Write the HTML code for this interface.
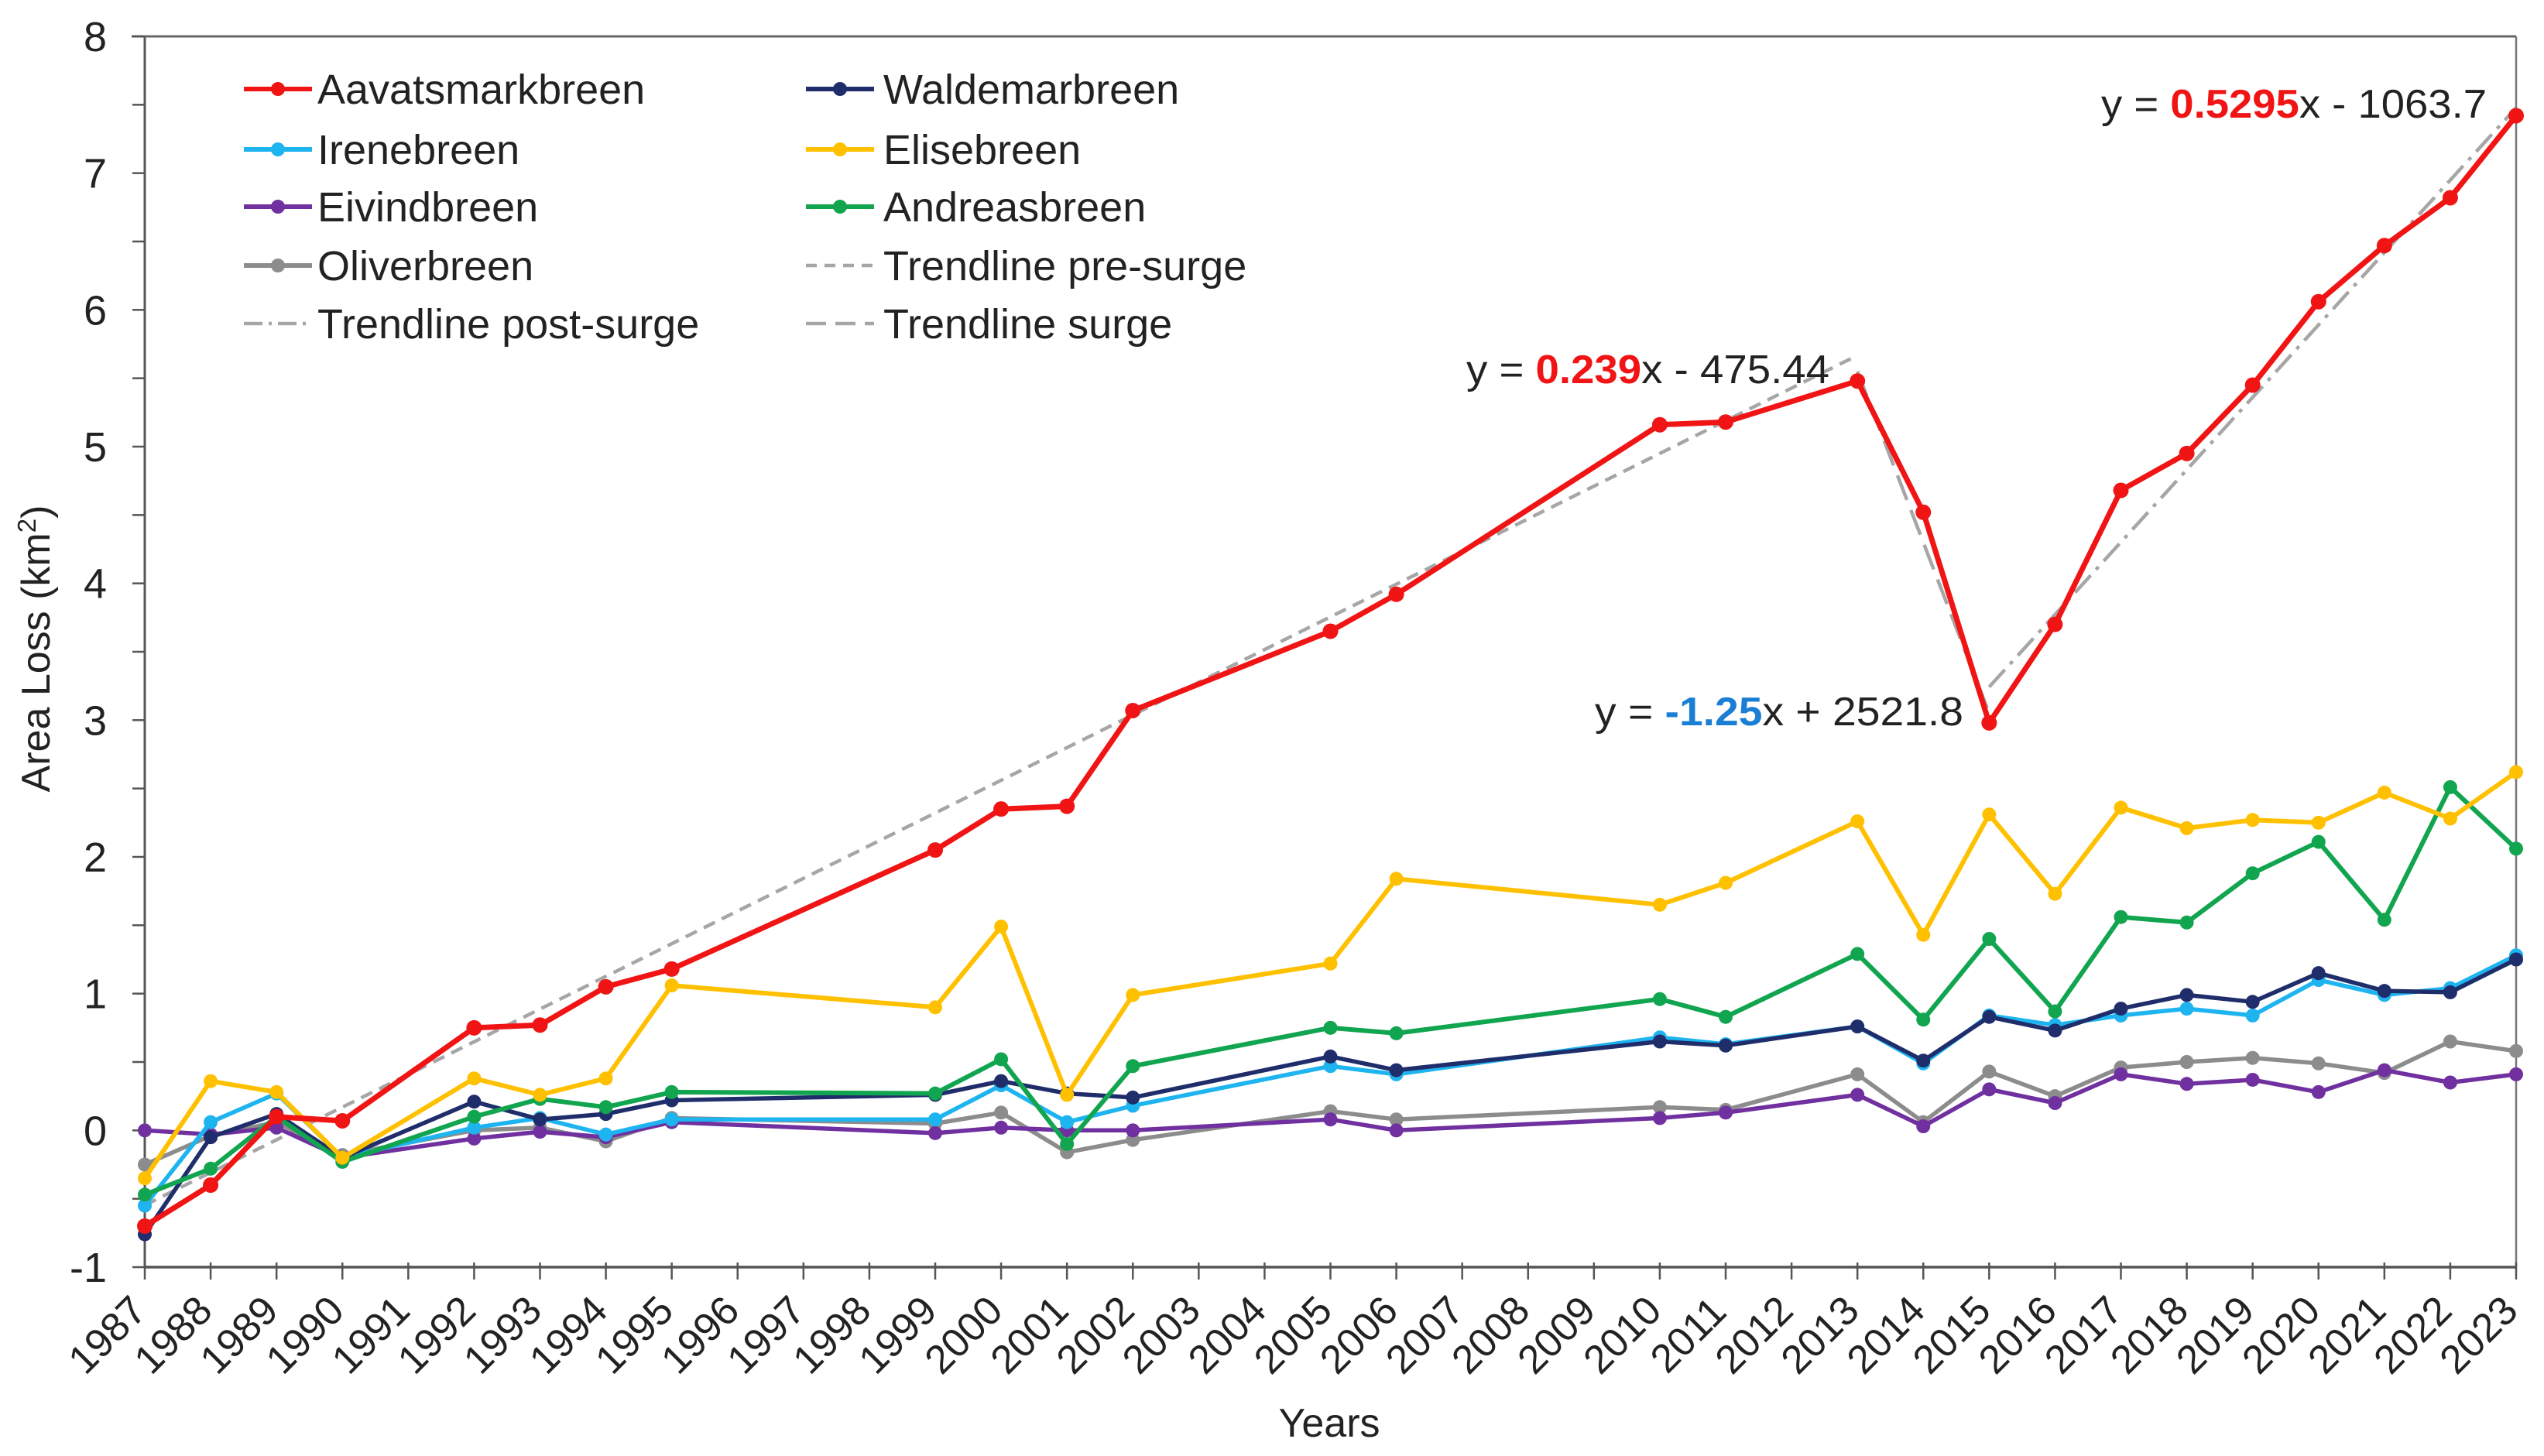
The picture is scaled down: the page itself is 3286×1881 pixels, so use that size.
<!DOCTYPE html>
<html><head><meta charset="utf-8"><title>Area Loss</title>
<style>
html,body{margin:0;padding:0;background:#fff;}
svg{display:block;font-family:"Liberation Sans",Arial,sans-serif;}
</style></head>
<body>
<svg id="chart" width="3286" height="1881" viewBox="0 0 3286 1881" xmlns="http://www.w3.org/2000/svg">
<rect x="0" y="0" width="3286" height="1881" fill="#fff"/>
<g id="axes"></g>
<g id="trends"></g>
<g id="series"></g>
<g id="legend"></g>
<g id="annot"></g>
<text x="0" y="0" transform="translate(64,838) rotate(-90)" text-anchor="middle" font-size="52" fill="#222">Area Loss (km<tspan baseline-shift="super" font-size="33">2</tspan>)</text>
<text x="1717" y="1856" text-anchor="middle" font-size="52" fill="#222">Years</text>
</svg>
<script>
const years = [1987,1988,1989,1990,1992,1993,1994,1995,1999,2000,2001,2002,2005,2006,2010,2011,2013,2014,2015,2016,2017,2018,2019,2020,2021,2022,2023];
const aavatsmark = [-0.7,-0.4,0.1,0.07,0.75,0.77,1.05,1.18,2.05,2.35,2.37,3.07,3.65,3.92,5.16,5.18,5.48,4.52,2.98,3.7,4.68,4.95,5.45,6.06,6.47,6.82,7.42];
const waldemar = [-0.76,-0.05,0.12,-0.2,0.21,0.08,0.12,0.22,0.26,0.36,0.27,0.24,0.54,0.44,0.65,0.62,0.76,0.51,0.83,0.73,0.89,0.99,0.94,1.15,1.02,1.01,1.25];
const irene = [-0.55,0.06,0.27,-0.2,0.02,0.09,-0.03,0.08,0.08,0.33,0.06,0.18,0.47,0.41,0.68,0.63,0.76,0.49,0.84,0.77,0.84,0.89,0.84,1.1,0.99,1.04,1.28];
const elise = [-0.35,0.36,0.28,-0.2,0.38,0.26,0.38,1.06,0.9,1.49,0.26,0.99,1.22,1.84,1.65,1.81,2.26,1.43,2.31,1.73,2.36,2.21,2.27,2.25,2.47,2.28,2.62];
const eivind = [0.0,-0.03,0.02,-0.2,-0.06,-0.01,-0.05,0.06,-0.02,0.02,0.0,0.0,0.08,0.0,0.09,0.13,0.26,0.03,0.3,0.2,0.41,0.34,0.37,0.28,0.44,0.35,0.41];
const andreas = [-0.47,-0.28,0.1,-0.23,0.1,0.23,0.17,0.28,0.27,0.52,-0.1,0.47,0.75,0.71,0.96,0.83,1.29,0.81,1.4,0.87,1.56,1.52,1.88,2.11,1.54,2.51,2.06];
const oliver = [-0.25,-0.04,0.06,-0.18,0.0,0.02,-0.08,0.09,0.05,0.13,-0.16,-0.07,0.14,0.08,0.17,0.15,0.41,0.06,0.43,0.25,0.46,0.5,0.53,0.49,0.42,0.65,0.58];
const yTicks = [-1,0,1,2,3,4,5,6,7,8];
const xTickYears = [1987,1988,1989,1990,1991,1992,1993,1994,1995,1996,1997,1998,1999,2000,2001,2002,2003,2004,2005,2006,2007,2008,2009,2010,2011,2012,2013,2014,2015,2016,2017,2018,2019,2020,2021,2022,2023];
const trendPre = {slope:0.239, icpt:-475.44, from:1987, to:2013};
const trendSurge = {slope:-1.25, icpt:2521.8, from:2013, to:2015};
const trendPost = {slope:0.5295, icpt:-1063.7, from:2015, to:2023};

const NS="http://www.w3.org/2000/svg";
const X0=187, X1=3250, Y8=47, Y_1=1637;
function xs(yr){return X0+(yr-1987)*(X1-X0)/36;}
function ys(v){return Y8+(8-v)*(Y_1-Y8)/9;}
function mk(tag,attrs,parent){const e=document.createElementNS(NS,tag);for(const k in attrs)e.setAttribute(k,attrs[k]);parent.appendChild(e);return e;}

const axes=document.getElementById('axes');
let l;
l=mk('line',{x1:X0,y1:Y8,x2:X0,y2:Y_1,stroke:'#555','stroke-width':3},axes);


l=mk('line',{x1:X0,y1:Y_1,x2:X1,y2:Y_1,stroke:'#555','stroke-width':3.5},axes);


l=mk('line',{x1:X0-17,y1:Y8,x2:X1,y2:Y8,stroke:'#666','stroke-width':3},axes);


l=mk('line',{x1:X1,y1:Y8,x2:X1,y2:Y_1,stroke:'#777','stroke-width':2.5},axes);


for(let v=-1; v<=8; v+=0.5){
  const t=mk('line',{x1:X0-16,y1:ys(v),x2:X0,y2:ys(v),stroke:'#555','stroke-width':2.5},axes);
  
  
}
yTicks.forEach(v=>{
  const t=mk('text',{x:138,y:ys(v)+19,'text-anchor':'end','font-size':54,fill:'#222'},axes);
  t.textContent=String(v);
  
  
});
xTickYears.forEach(yr=>{
  const x=xs(yr);
  const t=mk('line',{x1:x,y1:Y_1-6,x2:x,y2:Y_1+16,stroke:'#555','stroke-width':2.5},axes);
  
  
  const tx=mk('text',{x:0,y:0,'text-anchor':'middle','dominant-baseline':'central','font-size':52,fill:'#222',transform:`translate(${x-48},1725) rotate(-45)`},axes);
  tx.textContent=String(yr);
  
  
});

const trends=document.getElementById('trends');
function trend(tr,dash,name){
  const p=mk('line',{x1:xs(tr.from),y1:ys(tr.slope*tr.from+tr.icpt),x2:xs(tr.to),y2:ys(tr.slope*tr.to+tr.icpt),stroke:'#a6a6a6','stroke-width':4.5,'stroke-dasharray':dash},trends);
  
  
}
trend(trendPre,'16 10','trendline-pre-surge');
trend(trendSurge,'34 14','trendline-surge');
trend(trendPost,'30 10 5 10','trendline-post-surge');

const seriesDefs=[
 ['oliverbreen',oliver,'#8c8c8c',5.5],
 ['eivindbreen',eivind,'#7030a0',5.5],
 ['irenebreen',irene,'#1eb4f0',5.5],
 ['waldemarbreen',waldemar,'#1f2d6b',5.5],
 ['andreasbreen',andreas,'#12a550',6],
 ['elisebreen',elise,'#ffc000',6],
 ['aavatsmarkbreen',aavatsmark,'#f01414',7]
];
const sg=document.getElementById('series');
seriesDefs.forEach(([name,vals,col,w])=>{
  const g=mk('g',{},sg);
  
  
  const pts=years.map((yr,i)=>xs(yr).toFixed(1)+','+ys(vals[i]).toFixed(1)).join(' ');
  const pl=mk('polyline',{points:pts,fill:'none',stroke:col,'stroke-width':w,'stroke-linejoin':'round'},g);
  
  
  years.forEach((yr,i)=>{
    const c=mk('circle',{cx:xs(yr),cy:ys(vals[i]),r:w>6?10:9,fill:col},g);
    
    
  });
});

const lg=document.getElementById('legend');
const legendItems=[
 ['Aavatsmarkbreen','#f01414','m',315,410,115],
 ['Waldemarbreen','#1f2d6b','m',1041,1141,115],
 ['Irenebreen','#1eb4f0','m',315,410,193],
 ['Elisebreen','#ffc000','m',1041,1141,193],
 ['Eivindbreen','#7030a0','m',315,410,267],
 ['Andreasbreen','#12a550','m',1041,1141,267],
 ['Oliverbreen','#8c8c8c','m',315,410,343],
 ['Trendline pre-surge','#a6a6a6','14 10',1041,1141,343],
 ['Trendline post-surge','#a6a6a6','24 8 4 8',315,410,418],
 ['Trendline surge','#a6a6a6','26 12',1041,1141,418]
];
legendItems.forEach(([label,col,kind,lx,tx,y])=>{
  const g=mk('g',{},lg);
  
  
  const attrs={x1:lx,y1:y,x2:lx+88,y2:y,stroke:col,'stroke-width':kind==='m'?6:4.5};
  if(kind!=='m')attrs['stroke-dasharray']=kind;
  const ln=mk('line',attrs,g);
  
  
  if(kind==='m'){
    const c=mk('circle',{cx:lx+44,cy:y,r:9,fill:col},g);
    
    
  }
  const t=mk('text',{x:tx,y:y+19,'font-size':54,fill:'#222'},g);
  t.textContent=label;
  
  
});

const an=document.getElementById('annot');
function eq(x,y,pre,slope,post,col,name,len){
  const t=mk('text',{x:x,y:y,'font-size':52,fill:'#222',textLength:len,lengthAdjust:'spacingAndGlyphs'},an);
  
  
  const a=mk('tspan',{},t);a.textContent=pre;
  const b=mk('tspan',{fill:col,'font-weight':'bold'},t);b.textContent=slope;
  const c=mk('tspan',{},t);c.textContent=post;
}
eq(2714,152,'y = ','0.5295','x - 1063.7','#f01414','equation-post-surge',498);
eq(1894,495,'y = ','0.239','x - 475.44','#f01414','equation-pre-surge',469);
eq(2060,937,'y = ','-1.25','x + 2521.8','#1a7fd4','equation-surge',476);
</script>
</body></html>
